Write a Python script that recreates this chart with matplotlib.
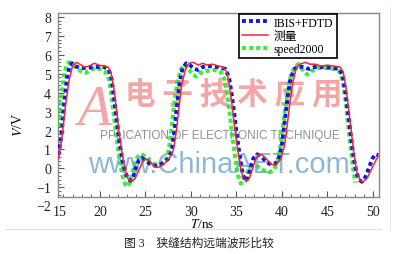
import matplotlib
matplotlib.use("Agg")
import matplotlib.pyplot as plt
from matplotlib.ticker import MultipleLocator
from matplotlib.lines import Line2D

plt.rcParams['font.family'] = ['Liberation Serif', 'Noto Sans CJK SC', 'DejaVu Sans']
plt.rcParams['mathtext.fontset'] = 'stix'

# IBIS+FDTD (blue dotted)
t_ibis = [15.45, 15.8, 16.1, 16.4, 16.7, 16.95, 17.3, 17.8, 18.5, 19.5, 20.5, 21.0, 21.3,
          21.6, 21.9, 22.2, 22.5, 22.8, 23.1, 23.4, 23.7, 24.0, 24.3, 24.6, 25.0, 25.5,
          26.0, 26.5, 27.0, 27.5, 27.9, 28.2, 28.5, 28.8, 29.1, 29.5, 29.9, 30.4, 30.8,
          31.3, 32.0, 33.0, 33.8, 34.2, 34.5, 34.8, 35.1, 35.4, 35.7, 36.0, 36.3, 36.6,
          36.9, 37.3, 37.8, 38.3, 38.8, 39.3, 39.7, 40.0, 40.3, 40.6, 40.9, 41.3, 41.8,
          42.3, 43.0, 43.6, 44.5, 45.5, 46.3, 46.7, 47.0, 47.3, 47.6, 47.9, 48.2, 48.5,
          48.8, 49.1, 49.4, 49.7, 50.0, 50.3, 50.6]
v_ibis = [0.7, 1.8, 3.5, 4.8, 5.45, 5.55, 5.4, 5.3, 5.3, 5.35, 5.35, 5.2, 4.7,
          3.6, 2.4, 1.3, 0.4, -0.2, -0.55, -0.65, -0.4, 0.1, 0.45, 0.55, 0.45, 0.25,
          0.15, 0.15, 0.3, 0.5, 0.9, 2.0, 3.4, 4.6, 5.3, 5.55, 5.45, 5.25, 5.2,
          5.35, 5.4, 5.35, 5.25, 4.8, 3.9, 2.8, 1.6, 0.6, -0.3, -0.65, -0.5, 0.1,
          0.55, 0.75, 0.6, 0.35, 0.2, 0.25, 0.6, 1.2, 2.4, 3.6, 4.6, 5.2, 5.4,
          5.35, 5.25, 5.35, 5.35, 5.3, 5.25, 4.9, 4.0, 2.9, 1.7, 0.6, -0.2, -0.6,
          -0.7, -0.55, -0.2, 0.2, 0.55, 0.75, 0.7]

# measured (red solid)
t_meas = [15.45, 15.8, 16.2, 16.6, 17.0, 17.4, 17.8, 18.3, 18.8, 19.4, 19.9, 20.5, 20.9,
          21.25, 21.55, 21.85, 22.15, 22.45, 22.75, 23.05, 23.5, 23.85, 24.2, 24.6, 25.0, 25.4,
          25.8, 26.2, 26.7, 27.2, 27.7, 28.1, 28.4, 28.7, 29.0, 29.4, 29.8, 30.3, 30.8,
          31.3, 31.8, 32.4, 33.0, 33.5, 33.95, 34.25, 34.55, 34.85, 35.15, 35.45, 35.75, 36.1,
          36.45, 36.8, 37.1, 37.5, 37.9, 38.4, 38.9, 39.4, 39.9, 40.3, 40.6, 40.9, 41.2,
          41.6, 42.0, 42.6, 43.1, 43.7, 44.3, 45.0, 45.8, 46.4, 46.75, 47.05, 47.35, 47.65,
          47.95, 48.25, 48.6, 48.95, 49.4, 49.8, 50.2, 50.6]
v_meas = [0.5, 1.5, 3.2, 4.6, 5.4, 5.6, 5.5, 5.35, 5.4, 5.55, 5.45, 5.4, 5.35,
          5.0, 4.2, 3.0, 1.8, 0.8, 0.0, -0.5, -0.7, -0.55, -0.2, 0.25, 0.5, 0.45,
          0.2, 0.05, 0.1, 0.3, 0.6, 1.0, 1.9, 3.2, 4.4, 5.2, 5.55, 5.6, 5.45,
          5.55, 5.45, 5.5, 5.4, 5.35, 5.1, 4.4, 3.3, 2.1, 1.0, 0.1, -0.5, -0.7,
          -0.5, 0.0, 0.45, 0.75, 0.7, 0.45, 0.2, 0.2, 0.5, 1.2, 2.3, 3.5, 4.5,
          5.3, 5.5, 5.6, 5.5, 5.5, 5.4, 5.45, 5.4, 5.35, 5.1, 4.3, 3.1, 1.9,
          0.7, -0.2, -0.65, -0.7, -0.5, -0.1, 0.3, 0.65]

# speed2000 (green dotted)
t_spd = [15.45, 15.7, 16.0, 16.3, 16.6, 17.0, 17.5, 18.0, 18.5, 19.0, 19.5, 20.0, 20.6,
         21.0, 21.3, 21.6, 21.9, 22.2, 22.5, 22.8, 23.1, 23.4, 23.7, 24.0, 24.4, 24.8,
         25.3, 25.8, 26.3, 26.8, 27.3, 27.6, 27.9, 28.2, 28.5, 28.9, 29.3, 29.7, 30.2,
         30.6, 31.1, 31.8, 32.6, 33.3, 33.7, 34.0, 34.3, 34.6, 34.9, 35.2, 35.5, 35.8,
         36.1, 36.6, 37.0, 37.5, 38.0, 38.6, 39.1, 39.5, 39.8, 40.1, 40.4, 40.7, 41.0,
         41.4, 41.8, 42.3, 42.8, 43.3, 44.0, 45.0, 45.8, 46.4, 46.7, 47.0, 47.3, 47.6,
         47.9, 48.1]
v_spd = [2.2, 3.5, 4.7, 5.4, 5.6, 5.5, 5.3, 5.1, 5.05, 5.2, 5.3, 5.25, 5.1,
         4.7, 3.8, 2.6, 1.4, 0.4, -0.4, -0.85, -0.95, -0.6, 0.0, 0.5, 0.75, 0.7,
         0.45, 0.25, 0.2, 0.3, 0.5, 1.0, 2.2, 3.5, 4.5, 5.2, 5.5, 5.3, 4.95,
         4.85, 5.05, 5.15, 5.2, 5.1, 4.7, 3.9, 2.8, 1.6, 0.5, -0.4, -0.8, -0.7,
         -0.3, 0.1, 0.2, 0.05, -0.1, -0.2, -0.1, 0.3, 1.0, 2.1, 3.2, 4.2, 4.9,
         5.35, 5.5, 5.2, 4.95, 5.15, 5.3, 5.3, 5.25, 5.1, 4.6, 3.6, 2.3, 1.0,
         -0.2, -0.75]

y_ticks = [-1, 0, 1, 2, 3, 4, 5, 6, 7, 8]
x_ticks = [20, 25, 30, 35, 40, 45, 50]

fig = plt.figure(figsize=(3.97, 2.55), dpi=100)
fig.patch.set_facecolor('white')
ax = fig.add_axes([0.146, 0.224, 0.809, 0.721])

# watermark
wm_cjk = ['Noto Sans CJK SC', 'DejaVu Sans']
ax.text(0.21, 0.56, '电 子 技 术 应 用', transform=ax.transAxes, fontsize=22, color='#f08080',
        alpha=0.7, family=wm_cjk, fontweight='bold', va='center', ha='left', zorder=1)
ax.text(0.06, 0.47, 'A', transform=ax.transAxes, fontsize=40, color='#f08080', alpha=0.7,
        style='italic', va='center', ha='left', zorder=1)
ax.text(0.505, 0.335, 'PPLICATION OF ELECTRONIC TECHNIQUE', transform=ax.transAxes, fontsize=8.5,
        color='#909090', family='Liberation Sans', va='center', ha='center', zorder=1)
ax.text(0.5, 0.18, 'www.ChinaAET.com', transform=ax.transAxes, fontsize=21,
        color='#8fb8d8', family='Liberation Sans', va='center', ha='center', zorder=1)

ax.plot(t_spd, v_spd, color='#22e622', lw=3.0, ls=(0, (1, 0.7)), alpha=0.85,
        label='speed2000', zorder=3)
ax.plot(t_ibis, v_ibis, color='#1414e6', lw=2.8, ls=(0, (1, 0.8)),
        label='IBIS+FDTD', zorder=4)
ax.plot(t_meas, v_meas, color='#ee2a2a', lw=1.1, label='测量', zorder=5)

ax.set_xlim(15.4, 50.7)
ax.set_ylim(-1.5, 8.2)
ax.set_xticks(x_ticks)
ax.set_yticks(y_ticks)
ax.xaxis.set_minor_locator(MultipleLocator(1))
ax.yaxis.set_minor_locator(MultipleLocator(0.2))
ax.tick_params(which='both', direction='in', top=False, right=False, colors='#555555',
               labelcolor='#222222', labelsize=10)
ax.tick_params(which='major', length=4, width=0.8)
ax.tick_params(which='minor', length=2, width=0.6)
ax.tick_params(axis='y', pad=5)
ax.tick_params(axis='x', pad=6)
ax.set_yticklabels(['\u22121'] + [str(v) for v in y_ticks[1:]])
for s in ax.spines.values():
    s.set_color('#888888')
    s.set_linewidth(1.0)

# corner labels that sit outside the frame
ax.annotate('\u22122', xy=(0, -2), xycoords=('axes fraction', 'data'), xytext=(-5, 0),
            textcoords='offset points', ha='right', va='center', fontsize=10,
            color='#222222', annotation_clip=False)
ax.annotate('15', xy=(15.6, 0), xycoords=('data', 'axes fraction'), xytext=(0, -6),
            textcoords='offset points', ha='center', va='top', fontsize=10,
            color='#222222', annotation_clip=False)

fig.text(0.045, 0.51, '$V$/V', rotation=90, fontsize=10, ha='center', va='center')
fig.text(0.51, 0.118, '$T$/ns', fontsize=9.5, ha='center', va='center')

h, l = ax.get_legend_handles_labels()
order = [1, 2, 0]
leg = ax.legend([h[i] for i in order], [l[i] for i in order], loc='upper left',
                bbox_to_anchor=(0.564, 0.997), borderaxespad=0, fancybox=False,
                framealpha=1, edgecolor='black', fontsize=8.5, handlelength=2.2,
                handletextpad=0.5, borderpad=0.25, labelspacing=0.1)
leg.get_frame().set_linewidth(1.2)
leg.set_zorder(10)

fig.add_artist(Line2D([0.015, 0.96], [0.1, 0.1], color='#dddddd', lw=0.8))
fig.add_artist(Line2D([0.982, 0.982], [0.1, 0.97], color='#e6e6e6', lw=0.8))

fig.text(0.50, 0.045, '图 3\u3000狭缝结构远端波形比较', fontsize=8.5, ha='center', va='center',
         color='#222222')

fig.savefig('out.png', dpi=100)
